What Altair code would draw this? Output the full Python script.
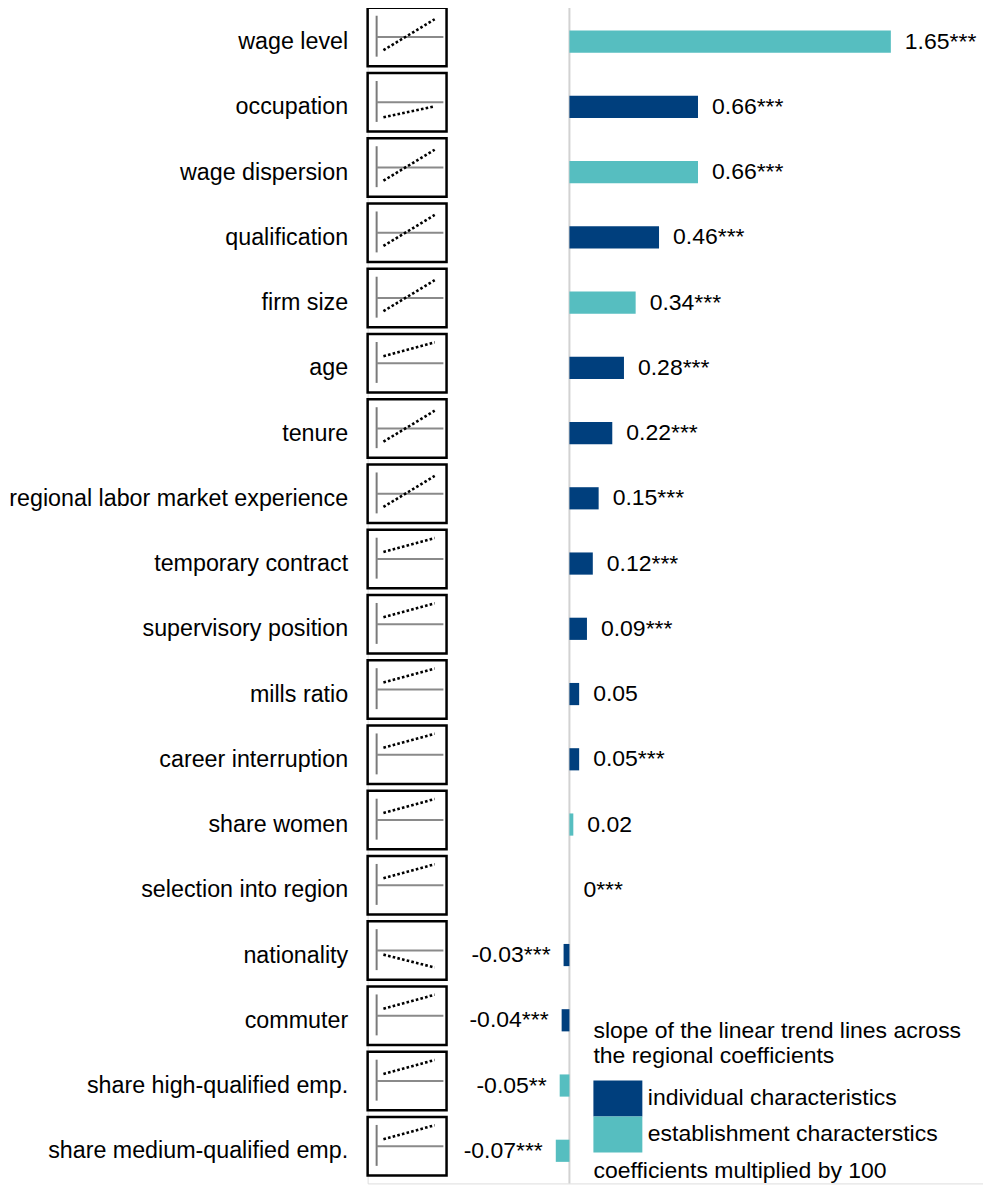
import json
import altair as alt
import pandas as pd

# ---------------- data ----------------
labels = ["wage level", "occupation", "wage dispersion", "qualification", "firm size", "age",
          "tenure", "regional labor market experience", "temporary contract",
          "supervisory position", "mills ratio", "career interruption", "share women",
          "selection into region", "nationality", "commuter", "share high-qualified emp.",
          "share medium-qualified emp."]
values = [1.65, 0.66, 0.66, 0.46, 0.34, 0.28, 0.22, 0.15, 0.12, 0.09, 0.05, 0.05, 0.02,
          0.0, -0.03, -0.04, -0.05, -0.07]
stars = ["***", "***", "***", "***", "***", "***", "***", "***", "***", "***", "", "***",
         "", "***", "***", "***", "**", "***"]
IND = "individual characteristics"
EST = "establishment characterstics"
groups = [EST, IND, EST, IND, EST, IND, IND, IND, IND, IND, IND, IND, EST, IND, IND, IND,
          EST, EST]
# schematic trend line in each small icon: level at left / right end (relative to the zero line, +-1 = box edge)
trend_start = [-0.45, -0.51, -0.45, -0.45, -0.45, 0.24, -0.45, -0.45, 0.24, 0.24, 0.24, 0.24,
               0.24, 0.24, -0.14, 0.24, 0.24, 0.24]
trend_end = [0.61, -0.14, 0.61, 0.61, 0.61, 0.72, 0.61, 0.61, 0.72, 0.72, 0.72, 0.72, 0.72,
             0.72, -0.58, 0.72, 0.72, 0.72]
legend_title = ["slope of the linear trend lines across", "the regional coefficients"]
note = "coefficients multiplied by 100"

# ---------------- layout constants ----------------
FONT = "Liberation Sans"
FS = 23
DARK = "#003f7d"
TEAL = "#56bec0"
PLOT_W = 616
ROW_PX = 65.3
N = len(labels)
TOP = 0.536                       # rows above the first row centre
PLOT_H = round((N - 0.5 + TOP) * ROW_PX)
ICON_W = 79          # px width of an icon box
ZERO_PX = 202        # px from plot left to value 0
PX_PER_UNIT = 195
BOX_HALF = 0.448     # half box height in row units
BOX_SHIFT = -0.069   # icon centre relative to row centre (row units)
BAR_HALF = 0.17

df = pd.DataFrame({
    "label": labels,
    "value": values,
    "group": groups,
    "t_start": trend_start,
    "t_end": trend_end,
})
df["row"] = range(N)
df["vtext"] = [f"{v:g}{s}" for v, s in zip(values, stars)]

yscale = alt.Scale(domain=[-TOP, N - 0.5], reverse=True, nice=False, zero=False)
yaxis = alt.Axis(values=list(range(N)), labelExpr=f"{json.dumps(labels)}[datum.value]",
                 ticks=False, domain=False, grid=False, title=None, labelFont=FONT,
                 labelFontSize=23.3, labelColor="black", labelPadding=20, labelLimit=600)


def Y(field):
    return alt.Y(field, scale=yscale, axis=yaxis)


# ---------------- icons ----------------
ixs = alt.Scale(domain=[0, PLOT_W / ICON_W], nice=False, zero=False)
base = alt.Chart(df)
ic = base.transform_calculate(c=f"datum.row + {BOX_SHIFT}")

box = ic.transform_calculate(
    x0="0", x1="1", y0=f"datum.c - {BOX_HALF}", y1=f"datum.c + {BOX_HALF}"
).mark_rect(fill="white", stroke="black", strokeWidth=2.5).encode(
    x=alt.X("x0:Q", scale=ixs, axis=None), x2="x1:Q", y=Y("y0:Q"), y2="y1:Q")

vline = ic.transform_calculate(
    xv="0.114", y0=f"datum.c - 0.73 * {BOX_HALF}", y1=f"datum.c + 0.67 * {BOX_HALF}"
).mark_rule(color="#7a7a7a", strokeWidth=2).encode(
    x=alt.X("xv:Q", scale=ixs, axis=None), y=Y("y0:Q"), y2="y1:Q")

hline = ic.transform_calculate(
    x0="0.114", x1="0.96"
).mark_rule(color="#8a8a8a", strokeWidth=2).encode(
    x=alt.X("x0:Q", scale=ixs, axis=None), x2="x1:Q", y=Y("c:Q"))

trend = ic.transform_calculate(
    x0="0.2", x1="0.85",
    y0=f"datum.c - datum.t_start * {BOX_HALF}", y1=f"datum.c - datum.t_end * {BOX_HALF}"
).mark_rule(color="black", strokeWidth=2.6, strokeDash=[2.6, 2.2]).encode(
    x=alt.X("x0:Q", scale=ixs, axis=None), x2="x1:Q", y=Y("y0:Q"), y2="y1:Q")

icons = alt.layer(box, vline, hline, trend)

# ---------------- bars ----------------
bxs = alt.Scale(domain=[-ZERO_PX / PX_PER_UNIT, (PLOT_W - ZERO_PX) / PX_PER_UNIT],
                nice=False, zero=False)

zero_rule = alt.Chart(pd.DataFrame({"zero": [0]})).mark_rule(
    color="#d2d2d2", strokeWidth=2).encode(x=alt.X("zero:Q", scale=bxs, axis=None))

bars = base.transform_calculate(
    y0=f"datum.row - {BAR_HALF}", y1=f"datum.row + {BAR_HALF}", base0="0"
).mark_bar().encode(
    x=alt.X("value:Q", scale=bxs, axis=None), x2="base0:Q",
    y=Y("y0:Q"), y2="y1:Q",
    color=alt.Color("group:N",
                    scale=alt.Scale(domain=[IND, EST], range=[DARK, TEAL]),
                    legend=alt.Legend(orient="none", legendX=226, legendY=1014,
                                      direction="vertical", title=legend_title,
                                      titleFont=FONT, titleFontSize=FS,
                                      titleFontWeight="normal", titleColor="black",
                                      titleLineHeight=25, titleLimit=600, titlePadding=13,
                                      labelFont=FONT, labelFontSize=FS, labelColor="black",
                                      labelLimit=600, labelOffset=12,
                                      symbolType="M-1.361,-1H1.361V1H-1.361Z",
                                      symbolSize=1296, symbolOffset=6.5,
                                      symbolStrokeWidth=0, symbolOpacity=1, rowPadding=0)))

pos_text = base.transform_filter("datum.value >= 0").mark_text(
    align="left", baseline="middle", dx=14, font=FONT, fontSize=FS, color="black").encode(
    x=alt.X("value:Q", scale=bxs, axis=None), y=Y("row:Q"), text="vtext:N")

neg_text = base.transform_filter("datum.value < 0").mark_text(
    align="right", baseline="middle", dx=-13, font=FONT, fontSize=FS, color="black").encode(
    x=alt.X("value:Q", scale=bxs, axis=None), y=Y("row:Q"), text="vtext:N")

note_text = alt.Chart(pd.DataFrame({"note": [note]})).mark_text(
    align="left", baseline="middle", font=FONT, fontSize=FS, color="black").encode(
    x=alt.value(226), y=alt.value(1166), text="note:N")

barpart = alt.layer(zero_rule, bars, pos_text, neg_text, note_text)

chart = alt.layer(icons, barpart).resolve_scale(x="independent").properties(
    width=PLOT_W, height=PLOT_H,
    padding={"top": -3, "left": 0, "right": 0, "bottom": 0}
).configure_view(stroke=None).configure(font=FONT)

chart.save("out.html", embed_options={"renderer": "svg", "actions": False})
